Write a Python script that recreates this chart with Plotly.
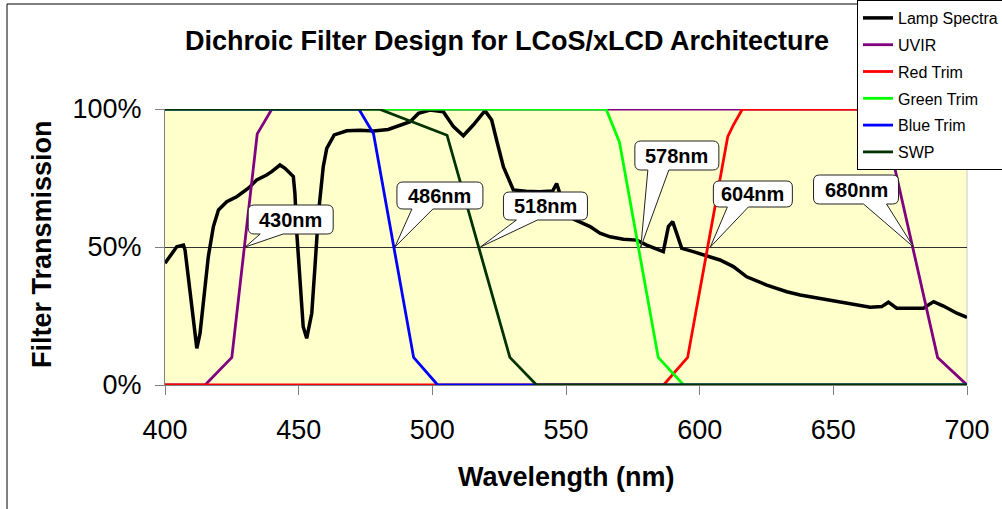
import plotly.graph_objects as go

# ------------------------------------------------------------------ data
lamp_wl = [400, 401.9, 404.4, 406.9, 407.5, 408.7, 410, 411.9, 413.1, 415, 416.2, 418.1,
           420, 423.1, 426.8, 431.2, 434.3, 438, 439.9, 443, 444.9, 448, 448.6, 449.3,
           450.5, 451.7, 453, 454.9, 456.1, 457.4, 459.2, 460.5, 463.3, 468, 473, 478,
           483.5, 486.7, 491.7, 494.8, 499.1, 504.1, 507.9, 511.6, 515.3, 519.7, 522.2,
           524.1, 526.6, 530.3, 535, 540, 545, 546.5, 547.5, 550, 553, 559, 562.7, 566.5,
           571.5, 576.5, 580.2, 586.4, 588.3, 589.9, 591.4, 593.3, 597.6, 601.4, 607.6,
           612.6, 617.6, 625.1, 632.6, 637.6, 641.3, 648.8, 656.3, 663.8, 668.1, 670.6,
           673.7, 683.7, 687.5, 691.2, 696.2, 700]
lamp_t = [44.1, 46.5, 50.1, 50.7, 48.9, 39.2, 28.4, 13.3, 18.7, 35.6, 46.5, 57.4,
          63.4, 66.4, 68.2, 71.3, 74.3, 76.1, 77.3, 79.7, 78.5, 75.5, 69.4, 55,
          36.8, 21.1, 16.9, 26, 42.9, 62.2, 79.1, 85.7, 90.6, 92.1, 92.3, 92,
          92.6, 93.6, 95.4, 98.4, 99.6, 99, 93.6, 90.3, 94.2, 99.4, 96,
          88.5, 79, 70.7, 70.2, 70, 70.3, 73, 70, 64, 60, 57.4, 55, 53.7,
          52.8, 52.5, 50.7, 48.3, 57.4, 59.2, 55, 49.5, 48.3, 47.1, 45.3,
          42.9, 39.2, 36.2, 33.8, 32.6, 32, 30.6, 29.6, 28.2, 28.4, 30,
          27.8, 27.8, 30.2, 28.6, 26, 24.5]

uvir_wl = [400, 415, 425, 434.5, 440, 668, 689, 700]
uvir_t = [0, 0, 10, 91, 100, 100, 10, 0]

red_wl = [400, 586.5, 595.5, 610.5, 612.5, 616, 700]
red_t = [0, 0, 10, 90, 94, 100, 100]

green_wl = [400, 565, 570, 584.5, 594, 700]
green_t = [100, 100, 88, 10, 0, 0]

blue_wl = [400, 472.5, 478, 493, 502, 700]
blue_t = [100, 100, 91, 10, 0, 0]

swp_wl = [400, 480, 505.5, 529, 539, 700]
swp_t = [100, 100, 90.5, 10, 0, 0]

series_names = ["Lamp Spectra", "UVIR", "Red Trim", "Green Trim", "Blue Trim", "SWP"]

cut_wl = [430, 486, 518, 578, 604, 680]
cut_labels = ["430nm", "486nm", "518nm", "578nm", "604nm", "680nm"]
cut_level = 50

x_ticks = [400, 450, 500, 550, 600, 650, 700]
y_ticks = [0, 50, 100]
y_ticktext = ["0%", "50%", "100%"]

# ------------------------------------------------------------------ styling
W, H = 1002, 509
ML, MR, MT, MB = 165, 35, 109, 124
PW, PH = W - ML - MR, H - MT - MB
FONT = "Arial, Liberation Sans, sans-serif"

colors = ["#000000", "#800080", "#FF0000", "#00FF00", "#0000FF", "#003300"]
widths = [3.5, 2.8, 2.8, 2.8, 2.8, 2.8]

# callout geometry (pixels relative to the 50% crossing, up positive):
# box x0, x1, y bottom, y top, tail base left, tail base right
callout_geo = [
    (3, 88, 13, 42, 15, 38),
    (2, 88, 38, 65, 17, 38),
    (23, 107, 27, 55, 36, 57),
    (-6, 78, 77, 106, 7, 28),
    (3, 82, 40, 66, 17, 38),
    (-100, -15, 43, 72, -50, -27),
]


def px_x(px):
    return (px - ML) / PW


def px_y(py):
    return (H - MB - py) / PH


def callout_path(x0, x1, yb, yt, t0, t1, r=6):
    return (f"M{t0},{yb} L0,0 L{t1},{yb} L{x1 - r},{yb} Q{x1},{yb} {x1},{yb + r} "
            f"L{x1},{yt - r} Q{x1},{yt} {x1 - r},{yt} L{x0 + r},{yt} Q{x0},{yt} {x0},{yt - r} "
            f"L{x0},{yb + r} Q{x0},{yb} {x0 + r},{yb} Z")


fig = go.Figure()
all_wl = [lamp_wl, uvir_wl, red_wl, green_wl, blue_wl, swp_wl]
all_t = [lamp_t, uvir_t, red_t, green_t, blue_t, swp_t]
for i, name in enumerate(series_names):
    fig.add_trace(go.Scatter(
        x=all_wl[i], y=all_t[i], name=name, mode="lines",
        line=dict(color=colors[i], width=widths[i]),
        cliponaxis=False, legendgroup=name,
    ))

shapes = []
annotations = []
for wl, lab, g in zip(cut_wl, cut_labels, callout_geo):
    x0, x1, yb, yt, t0, t1 = g
    shapes.append(dict(
        type="path", xref="x", yref="y", xsizemode="pixel", ysizemode="pixel",
        xanchor=wl, yanchor=cut_level, path=callout_path(*g),
        fillcolor="white", line=dict(color="#222222", width=1), layer="above",
    ))
    annotations.append(dict(
        x=wl, y=cut_level, xref="x", yref="y", text=lab, showarrow=False,
        xshift=(x0 + x1) / 2, yshift=(yb + yt) / 2,
        font=dict(family=FONT, size=20, color="black", weight="bold"),
    ))

# outer chart border
shapes.append(dict(type="rect", xref="paper", yref="paper",
                   x0=px_x(7), x1=px_x(1010), y0=px_y(520), y1=px_y(4),
                   line=dict(color="black", width=1), layer="below"))
# right edge of plot area
shapes.append(dict(type="line", xref="paper", yref="paper", x0=1, x1=1, y0=0, y1=1,
                   line=dict(color="#C8C8C8", width=1), layer="below"))

annotations.append(dict(
    text="Filter Transmission", xref="paper", yref="paper", x=px_x(42), y=px_y(244),
    textangle=-90, showarrow=False, xanchor="center", yanchor="middle",
    font=dict(family=FONT, size=27, color="black", weight="bold")))
annotations.append(dict(
    text="Wavelength (nm)", xref="paper", yref="paper", x=px_x(566), y=px_y(477),
    showarrow=False, xanchor="center", yanchor="middle",
    font=dict(family=FONT, size=27, color="black", weight="bold")))

fig.update_layout(
    width=W, height=H,
    margin=dict(l=ML, r=MR, t=MT, b=MB, autoexpand=False),
    paper_bgcolor="white", plot_bgcolor="#FFFFCC",
    title=dict(text="Dichroic Filter Design for LCoS/xLCD Architecture",
               x=507 / W, xanchor="center", y=1 - 41 / H, yanchor="middle",
               font=dict(family=FONT, size=27, color="black", weight="bold")),
    showlegend=True,
    legend=dict(x=px_x(857), xanchor="left", y=px_y(0), yanchor="top",
                bgcolor="white", bordercolor="black", borderwidth=1,
                font=dict(family=FONT, size=16, color="black"),
                traceorder="grouped", tracegroupgap=3),
    shapes=shapes, annotations=annotations,
    xaxis=dict(range=[400, 700], tickvals=x_ticks, ticks="outside", ticklen=9,
               tickcolor="#808080", showline=True, linecolor="#808080", showgrid=False,
               zeroline=False, layer="below traces", ticklabelstandoff=12,
               tickfont=dict(family=FONT, size=27, color="black")),
    yaxis=dict(range=[0, 100], tickvals=y_ticks, ticktext=y_ticktext, ticks="outside",
               ticklen=9, tickcolor="#808080", showline=True, linecolor="#808080",
               showgrid=True, gridcolor="#303030", gridwidth=1, zeroline=False,
               layer="below traces", ticklabelstandoff=8,
               tickfont=dict(family=FONT, size=27, color="black")),
)

fig.write_html("out.html", config={"displayModeBar": False},
               post_script="document.body.style.margin='0px';")
